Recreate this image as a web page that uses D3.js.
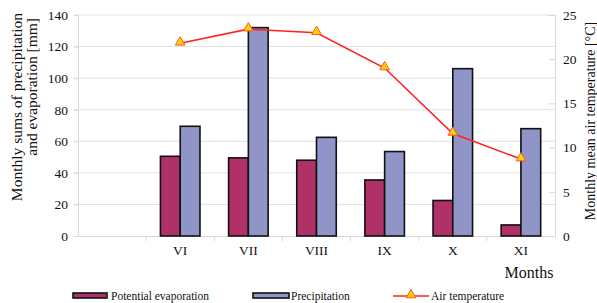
<!DOCTYPE html>
<html>
<head>
<meta charset="utf-8">
<script src="https://cdn.jsdelivr.net/npm/d3@7"></script>
<style>
  body { margin: 0; background: #fff; }
</style>
</head>
<body>
<svg id="chart" width="597" height="303"></svg>
<script>
// data
const months = ["", "VI", "VII", "VIII", "IX", "X", "XI"];
const evaporation = [null, 50.5, 49.5, 48, 35.5, 22.5, 7];
const precipitation = [null, 69.5, 132, 62.5, 53.5, 106, 68];
const airTemp = [null, 21.8, 23.4, 23.0, 19.0, 11.6, 8.7];
const leftTicks = [0, 20, 40, 60, 80, 100, 120, 140];
const rightTicks = [0, 5, 10, 15, 20, 25];

const FONT = "'Liberation Serif', 'Times New Roman', 'DejaVu Serif', serif";

let svg = d3.select("#chart");
let plotLeft = 78, plotRight = 555, plotTop = 15, plotBottom = 236;

let x = d3.scaleBand().domain(months.map((d, i) => i)).range([plotLeft, plotRight]);
let y = d3.scaleLinear().domain([0, 140]).range([plotBottom, plotTop]);
let y2 = d3.scaleLinear().domain([0, 25]).range([plotBottom, plotTop]);

// gridlines
svg.append("g").selectAll("line").data(leftTicks.slice(1)).enter().append("line")
    .attr("x1", plotLeft - 4).attr("x2", plotRight)
    .attr("y1", d => y(d)).attr("y2", d => y(d))
    .attr("stroke", "#e2e2e2").attr("stroke-width", 1);

// left axis
let yAxis = d3.axisLeft(y).tickValues(leftTicks).tickSize(4).tickPadding(6);
let gy = svg.append("g").attr("transform", "translate(" + plotLeft + ",0)").call(yAxis);
gy.select(".domain").attr("stroke", "#d8d8d8");
gy.selectAll(".tick line").attr("stroke", "#d8d8d8");

// right axis
let yAxis2 = d3.axisRight(y2).tickValues(rightTicks).tickSize(-6).tickPadding(8);
let gy2 = svg.append("g").attr("transform", "translate(" + plotRight + ",0)").call(yAxis2);
gy2.select(".domain").attr("stroke", "#d8d8d8");
gy2.selectAll(".tick line").attr("stroke", "#d8d8d8");

// x axis
let bw = x.bandwidth();
let xAxis = d3.axisBottom(x).tickFormat(i => months[i]).tickSize(0).tickPadding(9);
let gx = svg.append("g").attr("transform", "translate(0," + plotBottom + ")").call(xAxis);
gx.select(".domain").attr("stroke", "#d8d8d8");
// category separator ticks
svg.append("g").selectAll("line").data(months.slice(1).map((d, i) => i + 1)).enter().append("line")
    .attr("x1", i => x(i)).attr("x2", i => x(i))
    .attr("y1", plotBottom).attr("y2", plotBottom + 5)
    .attr("stroke", "#d8d8d8");

[gy, gy2, gx].forEach(g => g.attr("font-family", null).attr("font-size", null)
    .selectAll("text").style("font-family", FONT).style("font-size", "13.5px").attr("fill", "#111"));

// bars
let barW = bw * 0.29;
let evapData = evaporation.map((v, i) => ({v: v, i: i})).filter(d => d.v !== null);
let precData = precipitation.map((v, i) => ({v: v, i: i})).filter(d => d.v !== null);
let bars = svg.append("g");
bars.selectAll("rect.evap").data(evapData).enter()
    .append("rect").attr("class", "evap")
    .attr("x", d => x(d.i) + bw / 2 - barW)
    .attr("width", barW)
    .attr("y", d => y(d.v)).attr("height", d => plotBottom - y(d.v))
    .attr("fill", "#b03168").attr("stroke", "#111").attr("stroke-width", 1.6);
bars.selectAll("rect.prec").data(precData).enter()
    .append("rect").attr("class", "prec")
    .attr("x", d => x(d.i) + bw / 2)
    .attr("width", barW)
    .attr("y", d => y(d.v)).attr("height", d => plotBottom - y(d.v))
    .attr("fill", "#9095c8").attr("stroke", "#111").attr("stroke-width", 1.6);

// temperature line
let tData = airTemp.map((v, i) => ({v: v, i: i})).filter(d => d.v !== null);
let line = d3.line().x(d => x(d.i) + bw / 2).y(d => y2(d.v));
svg.append("path").datum(tData).attr("d", line)
    .attr("fill", "none").attr("stroke", "#ff2222").attr("stroke-width", 1.6);
let tri = d3.symbol().type(d3.symbolTriangle).size(40);
svg.append("g").selectAll("path").data(tData).enter().append("path")
    .attr("d", tri)
    .attr("transform", d => "translate(" + (x(d.i) + bw / 2) + "," + (y2(d.v) - 1) + ")")
    .attr("fill", "#ffd400").attr("stroke", "#ff5522").attr("stroke-width", 1);

// titles
svg.append("text").attr("transform", "translate(22,13) rotate(-90)")
    .attr("text-anchor", "end").style("font-family", FONT).style("font-size", "15.5px")
    .attr("fill", "#111").text("Monthly sums of precipitation");
svg.append("text").attr("transform", "translate(37,18) rotate(-90)")
    .attr("text-anchor", "end").style("font-family", FONT).style("font-size", "15.5px")
    .attr("fill", "#111").text("and evaporation [mm]");
svg.append("text").attr("transform", "translate(595,121) rotate(-90)")
    .attr("text-anchor", "middle").style("font-family", FONT).style("font-size", "14px")
    .attr("fill", "#111").text("Monthly mean air temperature [°C]");
svg.append("text").attr("x", 529).attr("y", 278).attr("text-anchor", "middle")
    .style("font-family", FONT).style("font-size", "16px").attr("fill", "#111").text("Months");

// legend
let lg = svg.append("g");
lg.append("rect").attr("x", 73).attr("y", 293).attr("width", 34).attr("height", 5)
    .attr("fill", "#b03168").attr("stroke", "#111").attr("stroke-width", 1.6);
lg.append("text").attr("x", 111).attr("y", 300).text("Potential evaporation");
lg.append("rect").attr("x", 253).attr("y", 293).attr("width", 36).attr("height", 5)
    .attr("fill", "#9095c8").attr("stroke", "#111").attr("stroke-width", 1.6);
lg.append("text").attr("x", 291).attr("y", 300).text("Precipitation");
lg.append("line").attr("x1", 393).attr("x2", 429).attr("y1", 296).attr("y2", 296)
    .attr("stroke", "#ff2222").attr("stroke-width", 1.6);
lg.append("path").attr("d", tri).attr("transform", "translate(411,295)")
    .attr("fill", "#ffd400").attr("stroke", "#ff5522");
lg.append("text").attr("x", 431).attr("y", 300).text("Air temperature");
lg.selectAll("text").style("font-family", FONT).style("font-size", "11.5px").attr("fill", "#111");
</script>
</body>
</html>
